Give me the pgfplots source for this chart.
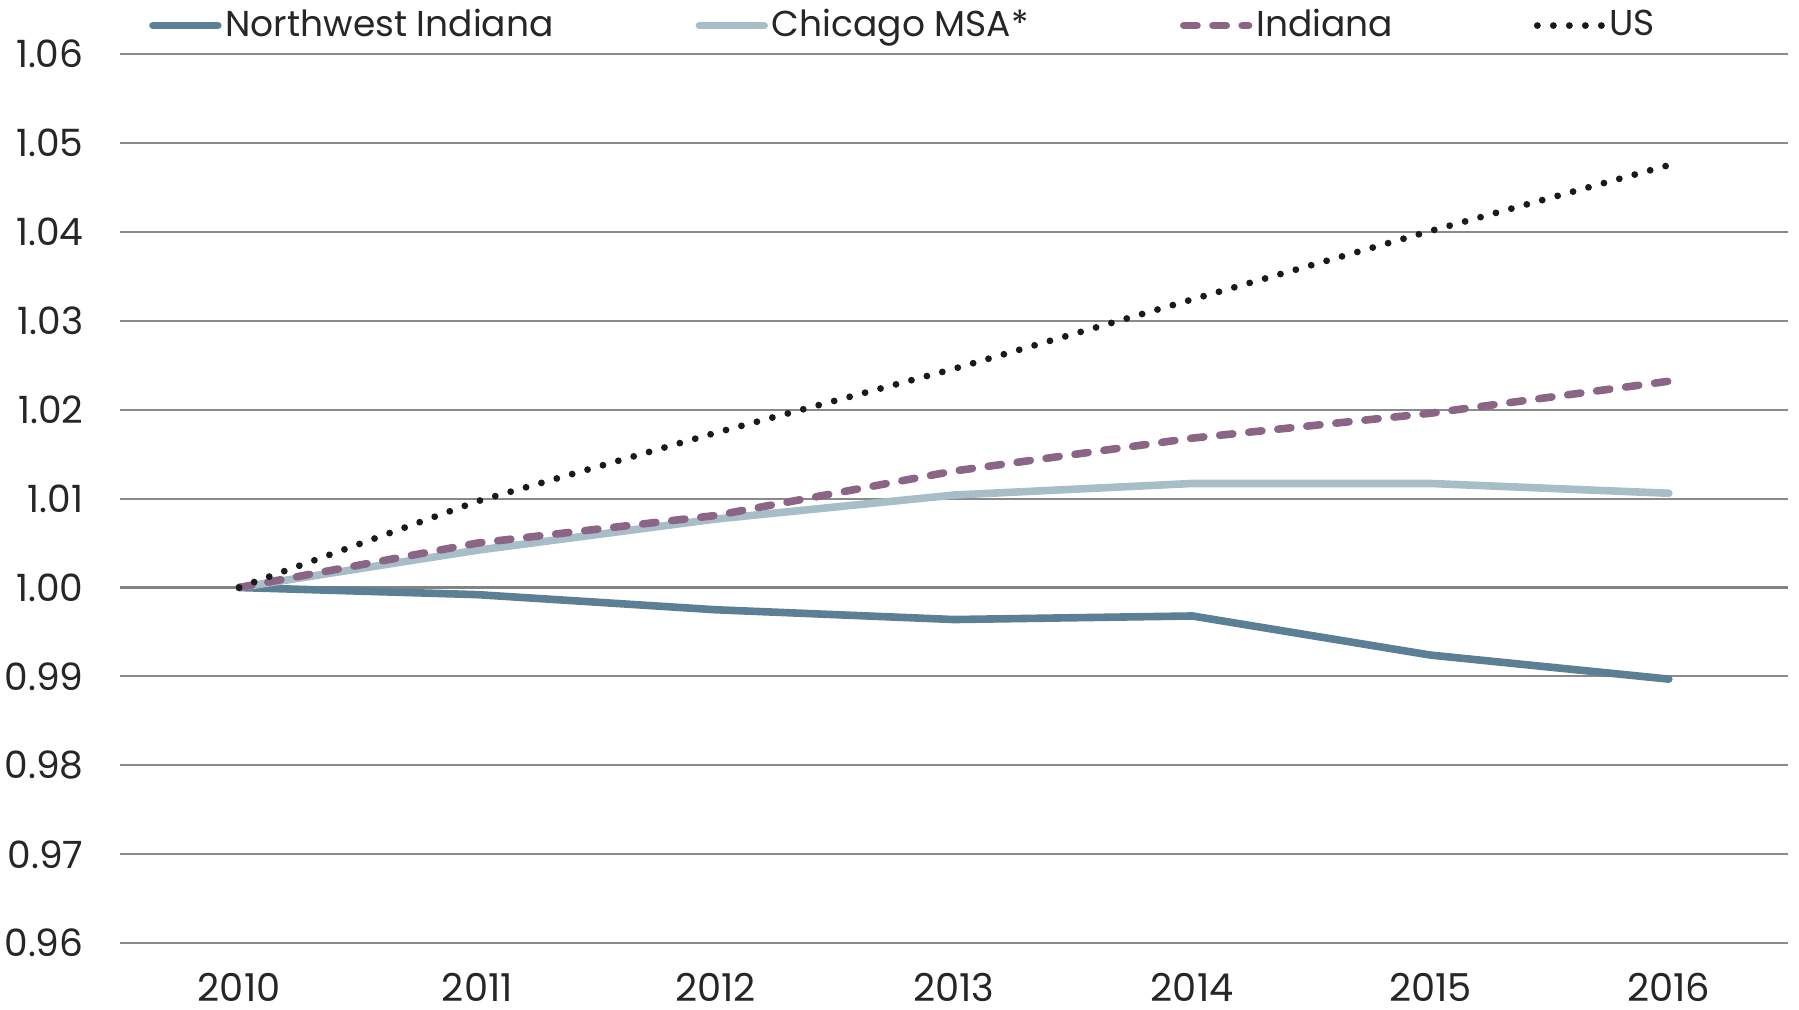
\documentclass[border=0pt]{standalone}
\usepackage{pgfplots}
\pgfplotsset{compat=1.18}
\usepackage{fontspec}
\setmainfont{Poppins}
\definecolor{nwcol}{HTML}{5B7F95}
\definecolor{chicol}{HTML}{A7BEC9}
\definecolor{indcol}{HTML}{8A6585}
\definecolor{uscol}{HTML}{1A1A1A}
\definecolor{gridcol}{HTML}{8A8A8A}
\definecolor{txtcol}{HTML}{262626}
\begin{document}
\begin{tikzpicture}
\begin{axis}[
  at={(0,0)}, anchor=south west,
  scale only axis,
  width=417pt, height=222.3pt,
  xmin=2009.5, xmax=2016.5,
  ymin=0.96, ymax=1.06,
  ytick={0.96,0.97,...,1.06},
  xtick={2010,...,2016},
  axis line style={draw=none},
  ymajorgrids,
  major grid style={gridcol, line width=0.5pt},
  major tick length=0pt,
  tick label style={text=txtcol},
  /pgf/number format/assume math mode=true,
  yticklabel style={font=\fontsize{9.4}{11}\selectfont, /pgf/number format/.cd, fixed, fixed zerofill, precision=2, /tikz/.cd, xshift=-5.6pt},
  xticklabel style={font=\fontsize{9.6}{11}\selectfont, /pgf/number format/.cd, 1000 sep={}, /tikz/.cd, inner sep=0pt, yshift=-7.2pt},
  legend columns=-1,
  legend style={draw=none, fill=none, at={(0.0175,1.032)}, anchor=west,
    inner sep=0pt, outer sep=0pt, nodes={inner sep=0pt},
    font=\fontsize{9}{11}\selectfont, text=txtcol,
    /tikz/every odd column/.style={column sep=1pt}},
  legend image code/.code={\draw[#1] (0pt,0pt) -- (16.2pt,0pt);},
]
\addplot[gridcol!95!black, line width=0.9pt, forget plot] coordinates {(2009.5,1.0) (2016.5,1.0)};
\addplot[nwcol, line width=1.9pt, line cap=round] coordinates {
(2010,1.0000) (2011,0.9992) (2012,0.9975) (2013,0.9964) (2014,0.9968) (2015,0.9924) (2016,0.9897)};
\addlegendentry{\makebox[117.5pt][l]{Northwest Indiana}}
\addplot[chicol, line width=1.9pt, line cap=round] coordinates {
(2010,1.0000) (2011,1.0042) (2012,1.0077) (2013,1.0104) (2014,1.0117) (2015,1.0117) (2016,1.0106)};
\addlegendentry{\makebox[102pt][l]{Chicago MSA*}}
\addplot[indcol, line width=1.9pt, line cap=round, dash pattern=on 3.3pt off 4pt] coordinates {
(2010,1.0000) (2011,1.0050) (2012,1.0081) (2013,1.0131) (2014,1.0168) (2015,1.0196) (2016,1.0232)};
\addlegendentry{\makebox[69.4pt][l]{Indiana}}
\addplot[uscol, line width=1.7pt, line cap=round, dash pattern=on 0pt off 4pt] coordinates {
(2010,1.0000) (2011,1.0097) (2012,1.0174) (2013,1.0246) (2014,1.0324) (2015,1.0401) (2016,1.0475)};
\addlegendentry{US}
\end{axis}
\pgfresetboundingbox
\path (-30pt,-16.45pt) rectangle (419.75pt,235.8pt);
\end{tikzpicture}
\end{document}
